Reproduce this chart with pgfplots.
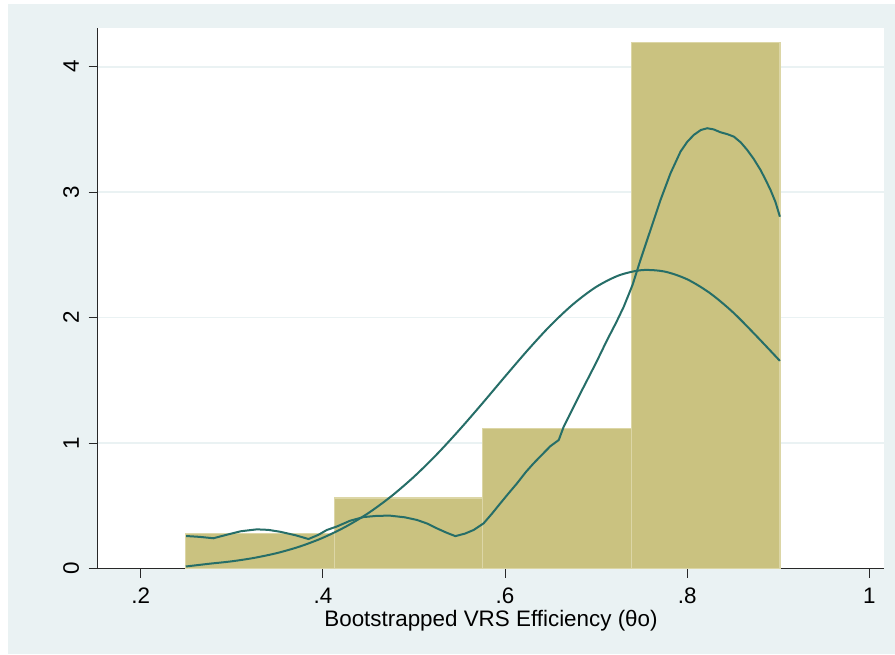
\documentclass[border=0pt]{standalone}
\usepackage{fontspec}
\setmainfont{Liberation Sans}
\usepackage{pgfplots}
\pgfplotsset{compat=1.18}
\definecolor{bgblue}{RGB}{234,242,243}
\definecolor{barfill}{RGB}{202,194,128}
\definecolor{baredge}{RGB}{220,214,166}
\definecolor{teal}{RGB}{38,110,104}
\definecolor{axgray}{RGB}{40,40,40}
\begin{document}
\begin{tikzpicture}
\path[use as bounding box] (-49pt,-42.75pt) rectangle (398.5pt,284.25pt);
\fill[bgblue] (-45pt,-42.75pt) rectangle (398.5pt,282.25pt);
\begin{axis}[
  at={(0,0)}, anchor=south west,
  scale only axis, width=393pt, height=270.25pt,
  xmin=0.1531, xmax=1.0161, ymin=0, ymax=4.308,
  axis background/.style={fill=white},
  axis x line*=bottom, axis y line*=left,
  axis line style={axgray, line width=0.5pt},
  xtick={0.2,0.4,0.6,0.8,1},
  xticklabels={.2,.4,.6,.8,1},
  ytick={0,1,2,3,4},
  /pgf/number format/assume math mode=true,
  tick align=outside,
  major tick length=4.7pt,
  tick style={axgray, line width=0.5pt},
  ymajorgrids, xmajorgrids=false,
  grid style={bgblue, line width=0.9pt},
  tick label style={font=\fontsize{11.2}{13}\selectfont},
  xticklabel style={anchor=north, inner sep=0pt, yshift=-5pt},
  yticklabel style={xshift=-4.6pt, rotate=90, anchor=south, inner sep=0pt},
  xlabel={Bootstrapped VRS Efficiency (θo)},
  xlabel style={at={(axis description cs:0.5,0)}, anchor=north, inner sep=0pt, yshift=-20.5pt, font=\fontsize{11.2}{13}\selectfont},
  clip=false,
]
\addplot[ybar interval, fill=barfill, draw=baredge, line width=0.6pt] coordinates {
(0.2495,0.277) (0.4126,0.562) (0.5757,1.114) (0.7388,4.195) (0.9019,4.195)};

% normal density
\addplot[teal, line width=1pt, smooth, mark=none] coordinates {
(0.2495,0.016) (0.275,0.0377) (0.300,0.0573) (0.325,0.0852) (0.350,0.1238)
(0.375,0.176) (0.400,0.245) (0.425,0.333) (0.450,0.442) (0.475,0.575)
(0.500,0.731) (0.525,0.909) (0.550,1.106) (0.575,1.315) (0.600,1.530)
(0.625,1.741) (0.650,1.938) (0.675,2.108) (0.700,2.244) (0.725,2.336)
(0.750,2.378) (0.775,2.367) (0.800,2.305) (0.825,2.195) (0.850,2.044)
(0.875,1.861) (0.9018,1.655)};

% kernel density
\addplot[teal, line width=1pt, mark=none] coordinates {
(0.2498,0.259) (0.2650,0.252) (0.2798,0.241) (0.2950,0.270) (0.3100,0.297)
(0.3275,0.312) (0.3400,0.308) (0.3530,0.293) (0.3700,0.265) (0.3842,0.235)
(0.3950,0.268) (0.4044,0.307) (0.4154,0.335) (0.4300,0.381) (0.4446,0.410)
(0.4600,0.420) (0.4740,0.421) (0.4900,0.408) (0.5033,0.387) (0.5150,0.357)
(0.5252,0.320) (0.5350,0.288) (0.5454,0.258) (0.5560,0.278) (0.5655,0.307)
(0.5765,0.360) (0.5860,0.440) (0.5949,0.520) (0.6040,0.600) (0.6132,0.679)
(0.6230,0.770) (0.6315,0.839) (0.6410,0.910) (0.6498,0.975) (0.6590,1.024)
(0.6644,1.130) (0.6700,1.210) (0.6754,1.290) (0.6830,1.400) (0.6901,1.500)
(0.7000,1.640) (0.7121,1.821) (0.7220,1.960) (0.7304,2.087) (0.7400,2.260)
(0.7487,2.459) (0.7597,2.698) (0.7707,2.937) (0.7817,3.150) (0.7927,3.323)
(0.8000,3.400) (0.8073,3.456) (0.8150,3.495) (0.8220,3.509) (0.8290,3.500)
(0.8366,3.477) (0.8440,3.462) (0.8513,3.442) (0.8590,3.395) (0.8659,3.336)
(0.8730,3.265) (0.8805,3.177) (0.8860,3.100) (0.8915,3.017) (0.8970,2.920)
(0.9018,2.804)};
\end{axis}
\end{tikzpicture}
\end{document}
